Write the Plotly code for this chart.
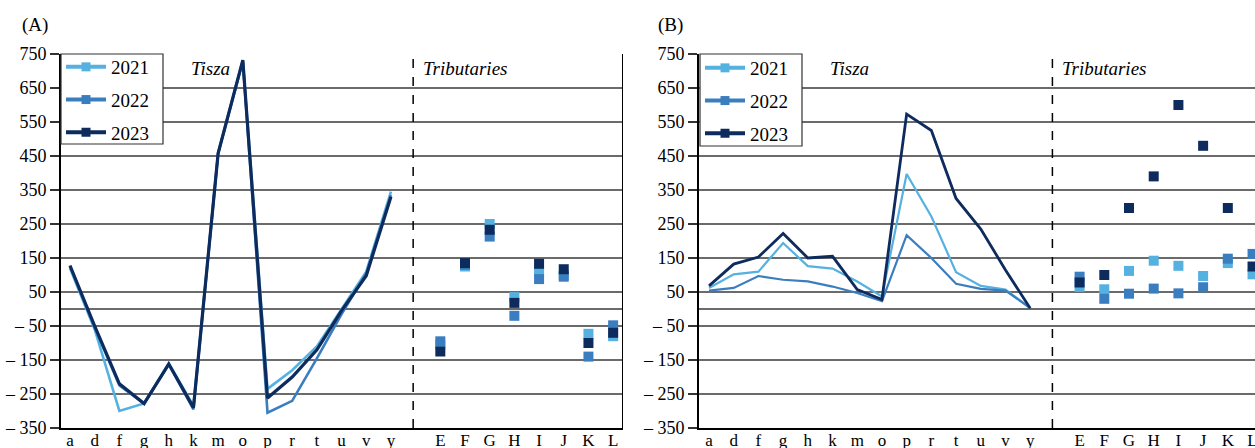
import plotly.graph_objects as go

W, H = 1255, 448

tisza_cats = ['a', 'd', 'f', 'g', 'h', 'k', 'm', 'o', 'p', 'r', 't', 'u', 'v', 'y']
trib_cats = ['E', 'F', 'G', 'H', 'I', 'J', 'K', 'L']
years = ['2021', '2022', '2023']
colors = ['#55B1E0', '#3A7EC0', '#0E2B5E']

A_tisza_2021 = [120, -60, -300, -278, -160, -285, 458, 730, -235, -180, -110, 0, 110, 345]
A_tisza_2022 = [125, -55, -225, -278, -162, -295, 458, 730, -305, -270, -145, -15, 105, 335]
A_tisza_2023 = [128, -50, -220, -278, -162, -290, 458, 732, -262, -200, -120, -5, 98, 330]
A_trib_2021 = [-105, 125, 250, 35, 110, 100, -73, -80]
A_trib_2022 = [-95, 130, 213, -20, 88, 95, -140, -48]
A_trib_2023 = [-125, 135, 233, 18, 133, 117, -100, -70]

B_tisza_2021 = [62, 102, 110, 194, 126, 119, 81, 37, 397, 272, 108, 68, 57, 3]
B_tisza_2022 = [54, 62, 97, 86, 81, 66, 47, 23, 217, 150, 74, 59, 54, 3]
B_tisza_2023 = [68, 132, 153, 222, 150, 155, 57, 28, 573, 525, 325, 235, 115, 2]
B_trib_2021 = [65, 58, 112, 142, 127, 97, 135, 102]
B_trib_2022 = [95, 30, 45, 60, 46, 64, 148, 162]
B_trib_2023 = [78, 100, 297, 390, 600, 480, 297, 125]

y_ticks = [750, 650, 550, 450, 350, 250, 150, 50, -50, -150, -250, -350]
y_ticktext = ['750', '650', '550', '450', '350', '250', '150', '50', '– 50', '– 150', '– 250', '– 350']

SERIF = 'Liberation Serif, Times New Roman, serif'

x_tisza = list(range(len(tisza_cats)))
x_trib = [len(tisza_cats) + 1 + i for i in range(len(trib_cats))]
x_sep = len(tisza_cats) - 0.1
all_x = x_tisza + x_trib
all_labels = tisza_cats + trib_cats

fig = go.Figure()

panels = [
    ('x', 'y', [A_tisza_2021, A_tisza_2022, A_tisza_2023], [A_trib_2021, A_trib_2022, A_trib_2023], 'legend', 3.2),
    ('x2', 'y2', [B_tisza_2021, B_tisza_2022, B_tisza_2023], [B_trib_2021, B_trib_2022, B_trib_2023], 'legend2', 2.8),
]

for xa, ya, tis, trib, leg, lw in panels:
    for i, yr in enumerate(years):
        fig.add_trace(go.Scatter(
            x=x_tisza, y=tis[i], mode='lines', xaxis=xa, yaxis=ya,
            line=dict(color=colors[i], width=lw if i == 2 else lw - 0.6),
            showlegend=False, hoverinfo='skip'))
    for i, yr in enumerate(years):
        fig.add_trace(go.Scatter(
            x=x_trib, y=trib[i], mode='markers', xaxis=xa, yaxis=ya,
            marker=dict(symbol='square', size=10, color=colors[i]),
            showlegend=False, hoverinfo='skip', cliponaxis=True))
    for i, yr in enumerate(years):
        fig.add_trace(go.Scatter(
            x=[None], y=[None], mode='lines+markers', xaxis=xa, yaxis=ya,
            name=yr, legend=leg, legendgroup=leg + yr,
            line=dict(color=colors[i], width=4),
            marker=dict(symbol='square', size=9, color=colors[i])))

top_px, bot_px = 54, 428
ydom = [1 - bot_px / H, 1 - top_px / H]
xdomA = [61 / W, 623 / W]
xdomB = [699 / W, 1.0]

def xaxis_cfg(dom, rng, anchor):
    return dict(domain=dom, range=rng, anchor=anchor, tickmode='array',
                tickvals=all_x, ticktext=all_labels, showgrid=False, zeroline=False,
                showline=True, linecolor='black', linewidth=2, ticks='',
                automargin=False, ticklabelstandoff=-4, ticklabeloverflow='allow',
                tickfont=dict(family=SERIF, size=17, color='black'))

def yaxis_cfg(anchor):
    return dict(domain=ydom, range=[-350, 750], anchor=anchor, tickmode='array',
                tickvals=y_ticks, ticktext=y_ticktext, showgrid=True,
                gridcolor='#6b6b6b', gridwidth=1.5, zeroline=True,
                zerolinecolor='#6b6b6b', zerolinewidth=1.5,
                showline=True, linecolor='black', linewidth=2,
                ticks='outside', ticklen=9, tickcolor='#333', tickwidth=1.5,
                automargin=False, ticklabeloverflow='allow',
                tickfont=dict(family=SERIF, size=18, color='black'))

leg_common = dict(xanchor='left', yanchor='top', bgcolor='rgba(0,0,0,0)',
                  borderwidth=0, font=dict(family=SERIF, size=19, color='black'),
                  tracegroupgap=5, itemwidth=40)

fig.update_layout(
    width=W, height=H, margin=dict(l=0, r=0, t=0, b=0, autoexpand=False),
    paper_bgcolor='white', plot_bgcolor='white',
    xaxis=xaxis_cfg(xdomA, [-0.365, 22.4], 'y'),
    yaxis=yaxis_cfg('x'),
    xaxis2=xaxis_cfg(xdomB, [-0.405, 22.1], 'y2'),
    yaxis2=yaxis_cfg('x2'),
    legend=dict(x=61 / W, y=1 - 48 / H, **leg_common),
    legend2=dict(x=700 / W, y=1 - 49 / H, **leg_common),
    showlegend=True,
)

shapes = []
# legend boxes (white background with border)
for x0, x1, y0, y1 in [(61, 163, 54, 144), (700, 802, 54, 146)]:
    shapes.append(dict(type='rect', xref='paper', yref='paper',
                       x0=x0 / W, x1=x1 / W, y0=1 - y1 / H, y1=1 - y0 / H,
                       fillcolor='white', line=dict(color='#333', width=1.2), layer='above'))
for xr, yr in [('x', 'y domain'), ('x2', 'y2 domain')]:
    shapes.append(dict(type='line', xref=xr, yref=yr, x0=x_sep, x1=x_sep, y0=0, y1=1,
                       line=dict(color='black', width=1.5, dash='dash')))
shapes.append(dict(type='line', xref='x', yref='y domain', x0=22.4, x1=22.4, y0=0, y1=1,
                   line=dict(color='black', width=2)))
fig.update_layout(shapes=shapes)

ann = [
    dict(text='(A)', x=20 / W, y=1 - 25 / H),
    dict(text='(B)', x=656 / W, y=1 - 25 / H),
]
for a in ann:
    fig.add_annotation(xref='paper', yref='paper', x=a['x'], y=a['y'], text=a['text'],
                       showarrow=False, xanchor='left', yanchor='middle',
                       font=dict(family=SERIF, size=19, color='black'))

texts = [
    ('x', 4.8, 'Tisza'),
    ('x', x_sep + 0.3, 'Tributaries'),
    ('x2', 4.8, 'Tisza'),
    ('x2', x_sep + 0.3, 'Tributaries'),
]
for xr, xv, t in texts:
    fig.add_annotation(xref=xr, yref='paper', x=xv, y=1 - 68 / H, text='<i>' + t + '</i>',
                       showarrow=False, xanchor='left', yanchor='middle',
                       font=dict(family=SERIF, size=19, color='black'))

fig.write_html('out.html', config={'displayModeBar': False},
               post_script="document.body.style.margin='0px';document.body.style.overflow='hidden';")
